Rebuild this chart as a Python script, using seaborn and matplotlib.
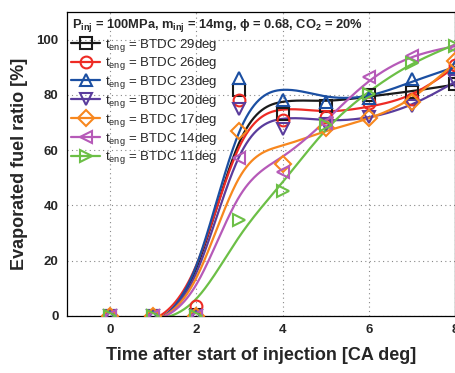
import numpy as np
import pandas as pd
import matplotlib
matplotlib.use("Agg")
import matplotlib.pyplot as plt
from matplotlib.lines import Line2D
import seaborn as sns

# ---------------- data ----------------
time_ca = [0, 1, 2, 3, 4, 5, 6, 7, 8]
labels = ["29deg", "26deg", "23deg", "20deg", "17deg", "14deg", "11deg"]
btdc29 = [0, 0, 0.5, 81.6, 73.0, 76.0, 80.0, 81.2, 83.8]
btdc26 = [0, 0, 3.5, 78.3, 71.0, 72.0, 77.0, 78.6, 91.0]
btdc23 = [0, 0, 0.5, 86.0, 78.3, 77.3, 79.0, 85.6, 90.0]
btdc20 = [0, 0, 0, 75.0, 67.5, 69.5, 72.0, 76.0, 85.2]
btdc17 = [0, 0, 0, 66.8, 55.0, 68.0, 71.5, 77.6, 92.4]
btdc14 = [0, 0, 0, 57.0, 52.0, 70.0, 86.3, 94.0, 97.0]
btdc11 = [0, 0, 0, 34.7, 45.4, 69.0, 80.5, 91.6, 97.8]
series = [btdc29, btdc26, btdc23, btdc20, btdc17, btdc14, btdc11]

colors = ["#1a1a1a", "#ee2b24", "#1b4fa2", "#5a3c9c", "#f7871e", "#b65ab8", "#6cbf46"]
markers = ["s", "o", "^", "v", "D", "<", ">"]

# smoothing spline (penalised 2nd differences on a fine grid)
def smooth(xd, yd, lam=0.12, step=0.02):
    xg = np.arange(xd[0], xd[-1] + step / 2, step)
    n = len(xg)
    w = np.zeros(n)
    yv = np.zeros(n)
    for xi, yi in zip(xd, yd):
        k = int(round((xi - xd[0]) / step))
        w[k] = 1.0
        yv[k] = yi
    D = np.diff(np.eye(n), 2, axis=0) / step ** 2
    A = np.diag(w) + lam * step * D.T @ D
    z = np.linalg.solve(A, w * yv)
    return xg, z

rows_pts, rows_fit = [], []
for lab, ys in zip(labels, series):
    for xv, yv in zip(time_ca, ys):
        rows_pts.append({"t": xv, "v": yv, "s": lab})
    xg, z = smooth(np.array(time_ca, float), np.array(ys, float))
    for xv, yv in zip(xg, z):
        rows_fit.append({"t": xv, "v": yv, "s": lab})
pts = pd.DataFrame(rows_pts)
fit = pd.DataFrame(rows_fit)

# ---------------- plot ----------------
sns.set_style("white")
plt.rcParams["font.family"] = ["Liberation Sans", "DejaVu Sans"]
plt.rcParams["mathtext.fontset"] = "custom"
plt.rcParams["mathtext.rm"] = "Liberation Sans"
plt.rcParams["mathtext.bf"] = "Liberation Sans:bold"

fig = plt.figure(figsize=(4.56, 3.73), dpi=100)
ax = fig.add_axes([67 / 456, 1 - 316 / 373, 388 / 456, 304 / 373])

pal = dict(zip(labels, colors))
sns.lineplot(data=fit, x="t", y="v", hue="s", palette=pal, lw=1.6,
             legend=False, ax=ax, sort=False, estimator=None)
for lab, c, m in zip(labels, colors, markers):
    sub = pts[pts["s"] == lab]
    ax.plot(sub["t"], sub["v"], ls="none", marker=m, ms=8.5, mfc="none",
            mec=c, mew=1.5, zorder=4)

ax.set_xlim(-1, 8)
ax.set_ylim(0, 110)
ax.set_xticks([0, 2, 4, 6, 8])
ax.set_yticks([0, 20, 40, 60, 80, 100])
ax.grid(True, ls=(0, (1, 3)), color="#888888", lw=0.8)
ax.tick_params(direction="in", length=4, width=0.8, labelsize=9.5, pad=6)
for t in ax.get_xticklabels() + ax.get_yticklabels():
    t.set_fontweight("bold")
for sp in ax.spines.values():
    sp.set_color("black")
    sp.set_linewidth(0.9)

ax.set_xlabel("Time after start of injection [CA deg]", fontsize=13,
              fontweight="bold", labelpad=8)
ax.set_ylabel("Evaporated fuel ratio [%]", fontsize=13, fontweight="bold",
              labelpad=6)

ax.text(0.012, 0.985,
        r"P$_{\mathbf{inj}}$ = 100MPa, m$_{\mathbf{inj}}$ = 14mg, $\mathbf{\phi}$ = 0.68, CO$_{\mathbf{2}}$ = 20%",
        transform=ax.transAxes, fontsize=9.3, fontweight="bold",
        ha="left", va="top")

handles = [Line2D([0], [0], color=c, lw=1.6, marker=m, ms=8.5, mfc="none",
                  mec=c, mew=1.5) for c, m in zip(colors, markers)]
leg_labels = [r"t$_{\mathrm{eng}}$ = BTDC " + l for l in labels]
ax.legend(handles, leg_labels, loc="upper left", bbox_to_anchor=(-0.01, 0.945),
          frameon=False, fontsize=9.5, handlelength=2.2, handletextpad=0.4,
          labelspacing=0.135, borderaxespad=0.2)

fig.savefig("out.png", dpi=100)
